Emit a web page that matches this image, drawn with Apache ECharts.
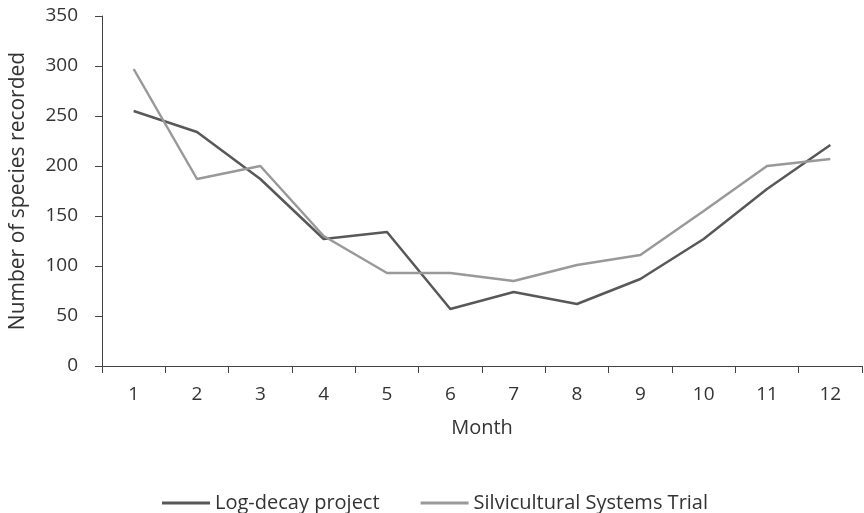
<!DOCTYPE html>
<html>
<head>
<meta charset="utf-8">
<script src="https://cdn.jsdelivr.net/npm/echarts@6/dist/echarts.min.js"></script>
<style>
  html, body { margin: 0; padding: 0; background: #fff; }
  #chart { width: 864px; height: 513px; }
</style>
</head>
<body>
<div id="chart"></div>
<script>
var months = ["1", "2", "3", "4", "5", "6", "7", "8", "9", "10", "11", "12"];
var logDecay = [255, 234, 187, 127, 134, 57, 74, 62, 87, 127, 177, 221];
var silvicultural = [297, 187, 200, 130, 93, 93, 85, 101, 111, 155, 200, 207];
var yTicks = [0, 50, 100, 150, 200, 250, 300, 350];

var chart = echarts.init(document.getElementById("chart"));

var option = {
  animation: false,
  backgroundColor: "#fff",
  textStyle: { fontFamily: "Open Sans", color: "#333" },
  grid: { left: 97, top: 16, right: 2, bottom: 147 },
  legend: {
    top: 488,
    left: 157,
    itemWidth: 48,
    itemHeight: 3,
    itemGap: 41,
    icon: "rect",
    textStyle: { fontSize: 20, color: "#333", fontFamily: "Open Sans" },
    data: ["Log-decay project", "Silvicultural Systems Trial"]
  },
  xAxis: {
    type: "category",
    data: months,
    boundaryGap: true,
    name: "Month",
    nameLocation: "middle",
    nameGap: 52,
    nameTextStyle: { fontSize: 20, color: "#333" },
    axisLine: { lineStyle: { color: "#444", width: 1 } },
    axisTick: { show: true, length: 7, lineStyle: { color: "#444" } },
    axisLabel: { fontSize: 19, color: "#333", margin: 19 },
    splitLine: { show: false }
  },
  yAxis: {
    type: "value",
    min: yTicks[0],
    max: yTicks[yTicks.length - 1],
    interval: 50,
    name: "Number of species recorded",
    nameLocation: "middle",
    nameGap: 73,
    nameTextStyle: { fontSize: 21, color: "#333" },
    axisLine: { show: true, lineStyle: { color: "#444", width: 1 } },
    axisTick: { show: true, length: 7, lineStyle: { color: "#444" } },
    axisLabel: { fontSize: 19, color: "#333", margin: 24 },
    splitLine: { show: false }
  },
  series: [
    {
      name: "Log-decay project",
      type: "line",
      data: logDecay,
      symbol: "none",
      color: "#585858",
      lineStyle: { width: 2.5, color: "#585858" }
    },
    {
      name: "Silvicultural Systems Trial",
      type: "line",
      data: silvicultural,
      symbol: "none",
      color: "#999999",
      lineStyle: { width: 2.5, color: "#999999" }
    }
  ]
};

chart.setOption(option);
</script>
</body>
</html>
